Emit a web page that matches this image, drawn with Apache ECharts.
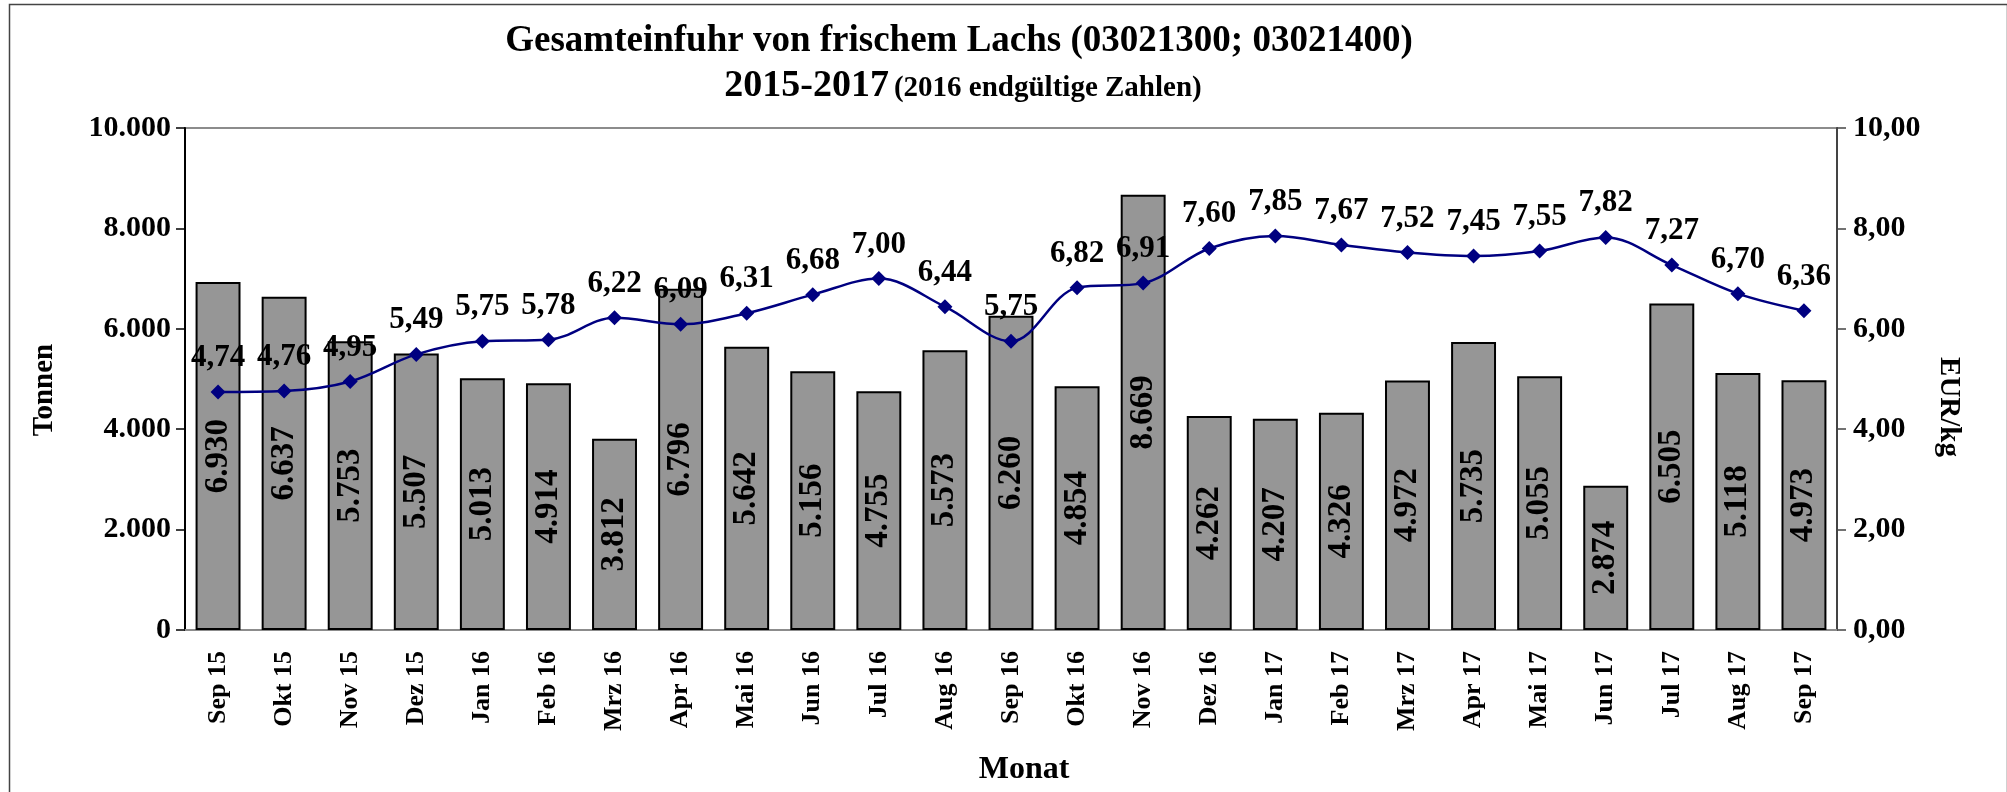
<!DOCTYPE html>
<html>
<head>
<meta charset="utf-8">
<script src="https://cdn.jsdelivr.net/npm/echarts@6/dist/echarts.min.js"></script>
<style>
html,body{margin:0;padding:0;background:#fff;}
#chart{width:2007px;height:792px;}
</style>
</head>
<body>
<div id="chart"></div>
<script>
const months = ['Sep 15','Okt 15','Nov 15','Dez 15','Jan 16','Feb 16','Mrz 16','Apr 16','Mai 16','Jun 16','Jul 16','Aug 16','Sep 16','Okt 16','Nov 16','Dez 16','Jan 17','Feb 17','Mrz 17','Apr 17','Mai 17','Jun 17','Jul 17','Aug 17','Sep 17'];
const tonnen = [6930,6637,5753,5507,5013,4914,3812,6796,5642,5156,4755,5573,6260,4854,8669,4262,4207,4326,4972,5735,5055,2874,6505,5118,4973];
const eurKg = [4.74,4.76,4.95,5.49,5.75,5.78,6.22,6.09,6.31,6.68,7.00,6.44,5.75,6.82,6.91,7.60,7.85,7.67,7.52,7.45,7.55,7.82,7.27,6.70,6.36];
const titleLine1 = 'Gesamteinfuhr von frischem Lachs (03021300; 03021400)';
const titleLine2a = '2015-2017';
const titleLine2b = '(2016 endgültige Zahlen)';

const serif = '"Liberation Serif","Times New Roman",serif';
const fmtThousands = v => String(Math.round(v)).replace(/\B(?=(\d{3})+(?!\d))/g, '.');
const fmtEur = v => Number(v).toFixed(2).replace('.', ',');

const chart = echarts.init(document.getElementById('chart'), null, {renderer: 'canvas'});
chart.setOption({
  animation: false,
  backgroundColor: '#fff',
  title: [
    {text: titleLine1, left: 954, top: 18, textAlign: 'center',
     textStyle: {fontFamily: serif, fontWeight: 'bold', fontSize: 37, color: '#000'}},
    {text: '{a|' + titleLine2a + '} {b|' + titleLine2b + '}', left: 958, top: 62, textAlign: 'center',
     textStyle: {rich: {
       a: {fontFamily: serif, fontWeight: 'bold', fontSize: 38, color: '#000', verticalAlign: 'bottom'},
       b: {fontFamily: serif, fontWeight: 'bold', fontSize: 29, color: '#000', verticalAlign: 'bottom', padding: [0,0,2,0]}
     }}}
  ],
  graphic: [{
    type: 'rect', left: 7, top: 2, silent: true,
    shape: {width: 1998, height: 800},
    style: {fill: 'none', stroke: '#444', lineWidth: 1.5}
  }],
  grid: {left: 185, right: 170, top: 128, bottom: 162, show: true, borderColor: '#8c8c8c', borderWidth: 2, backgroundColor: 'transparent'},
  xAxis: {
    type: 'category', data: months,
    name: 'Monat', nameLocation: 'middle', nameGap: 124,
    nameTextStyle: {fontFamily: serif, fontWeight: 'bold', fontSize: 32, color: '#000', padding: [0,0,0,26]},
    axisLine: {lineStyle: {color: '#8c8c8c', width: 2}},
    axisTick: {show: false},
    axisLabel: {rotate: 90, margin: 21, interval: 0, fontFamily: serif, fontWeight: 'bold', fontSize: 26, color: '#000'}
  },
  yAxis: [
    {type: 'value', min: 0, max: 10000, interval: 2000, position: 'left',
     name: 'Tonnen', nameLocation: 'middle', nameGap: 126, nameRotate: 90,
     nameTextStyle: {fontFamily: serif, fontWeight: 'bold', fontSize: 29, color: '#000', padding: [0,22,0,0]},
     axisLine: {show: true, lineStyle: {color: '#000', width: 2}},
     axisTick: {show: true, length: 9, lineStyle: {color: '#000', width: 1.5}},
     axisLabel: {margin: 14, fontFamily: serif, fontWeight: 'bold', fontSize: 30, color: '#000', formatter: fmtThousands},
     splitLine: {show: false}},
    {type: 'value', min: 0, max: 10, interval: 2, position: 'right',
     name: 'EUR/kg', nameLocation: 'middle', nameGap: 97, nameRotate: -90,
     nameTextStyle: {fontFamily: serif, fontWeight: 'bold', fontSize: 29, color: '#000', padding: [0,0,0,56]},
     axisLine: {show: true, lineStyle: {color: '#444', width: 2}},
     axisTick: {show: true, length: 9, lineStyle: {color: '#444', width: 1.5}},
     axisLabel: {margin: 16, fontFamily: serif, fontWeight: 'bold', fontSize: 30, color: '#000', formatter: fmtEur},
     splitLine: {show: false}}
  ],
  series: [
    {type: 'bar', name: 'Tonnen', yAxisIndex: 0, data: tonnen, barWidth: '68%',
     itemStyle: {color: '#969696', borderColor: '#000', borderWidth: 2},
     label: {show: true, position: 'inside', rotate: 90, fontFamily: serif, fontWeight: 'bold', fontSize: 33, color: '#000',
       formatter: p => fmtThousands(p.value)}},
    {type: 'line', name: 'EUR/kg', yAxisIndex: 1, data: eurKg, smooth: 0.35,
     symbol: 'diamond', symbolSize: 15,
     lineStyle: {color: '#000080', width: 2.5}, itemStyle: {color: '#000080'},
     label: {show: true, position: 'top', distance: 11, fontFamily: serif, fontWeight: 'bold', fontSize: 31, color: '#000',
       formatter: p => fmtEur(p.value)}}
  ]
});
</script>
</body>
</html>
